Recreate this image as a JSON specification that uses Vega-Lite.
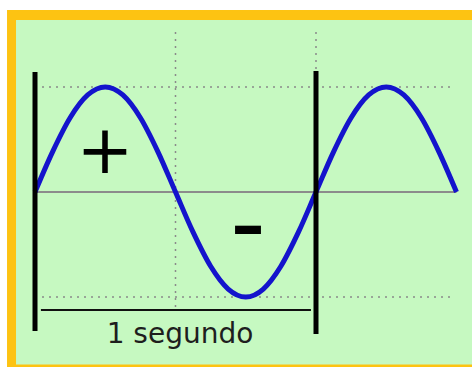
{
  "$schema": "https://vega.github.io/schema/vega-lite/v6.json",
  "width": 472,
  "height": 367,
  "autosize": {"type": "fit", "contains": "padding"},
  "padding": 0,
  "background": "#ffffff",
  "config": {"view": {"stroke": null}},
  "datasets": {
    "wave": [
      {"t": 0.0, "v": 0.0},
      {"t": 0.0625, "v": 0.3827},
      {"t": 0.125, "v": 0.7071},
      {"t": 0.1875, "v": 0.9239},
      {"t": 0.25, "v": 1.0},
      {"t": 0.3125, "v": 0.9239},
      {"t": 0.375, "v": 0.7071},
      {"t": 0.4375, "v": 0.3827},
      {"t": 0.5, "v": 0.0},
      {"t": 0.5625, "v": -0.3827},
      {"t": 0.625, "v": -0.7071},
      {"t": 0.6875, "v": -0.9239},
      {"t": 0.75, "v": -1.0},
      {"t": 0.8125, "v": -0.9239},
      {"t": 0.875, "v": -0.7071},
      {"t": 0.9375, "v": -0.3827},
      {"t": 1.0, "v": 0.0},
      {"t": 1.0625, "v": 0.3827},
      {"t": 1.125, "v": 0.7071},
      {"t": 1.1875, "v": 0.9239},
      {"t": 1.25, "v": 1.0},
      {"t": 1.3125, "v": 0.9239},
      {"t": 1.375, "v": 0.7071},
      {"t": 1.4375, "v": 0.3827},
      {"t": 1.5, "v": 0.0}
    ],
    "plus": [
      {"label": "+", "t": 0.249, "v": 0.181}
    ],
    "minus": [
      {"label": "–", "t": 0.758, "v": -0.529}
    ],
    "caption": [
      {"label": "1 segundo", "t": 0.516, "v": -1.438}
    ],
    "levels": [
      {"v": 1.0},
      {"v": -1.0}
    ]
  },
  "data": {"values": [{}]},
  "encoding": {
    "x": {"type": "quantitative", "scale": {"domain": [-0.1246, 1.5552], "nice": false, "zero": false}, "axis": null},
    "y": {"type": "quantitative", "scale": {"domain": [-1.6667, 1.8286], "nice": false, "zero": false}, "axis": null}
  },
  "layer": [
    {
      "mark": {"type": "rect", "color": "#fdc312"},
      "encoding": {
        "x": {"datum": -0.0996},
        "x2": {"datum": 1.5552},
        "y": {"datum": 1.733},
        "y2": {"datum": -1.6667}
      }
    },
    {
      "mark": {"type": "rect", "color": "#c6f9c1"},
      "encoding": {
        "x": {"datum": -0.0676},
        "x2": {"datum": 1.5552},
        "y": {"datum": 1.638},
        "y2": {"datum": -1.643}
      }
    },
    {
      "data": {"name": "levels"},
      "mark": {"type": "rule", "color": "#8a8a8a", "strokeWidth": 1.5, "strokeDash": [2, 5]},
      "encoding": {
        "x": {"datum": 0.0},
        "x2": {"datum": 1.49},
        "y": {"field": "v", "type": "quantitative"}
      }
    },
    {
      "mark": {"type": "rule", "color": "#8a8a8a", "strokeWidth": 1.5, "strokeDash": [2, 5]},
      "encoding": {
        "x": {"datum": 0.5},
        "y": {"datum": 1.524},
        "y2": {"datum": -1.143}
      }
    },
    {
      "mark": {"type": "rule", "color": "#8a8a8a", "strokeWidth": 1.5, "strokeDash": [2, 5]},
      "encoding": {
        "x": {"datum": 1.0},
        "y": {"datum": 1.524},
        "y2": {"datum": 1.15}
      }
    },
    {
      "mark": {"type": "rule", "color": "#8c8c8c", "strokeWidth": 2},
      "encoding": {
        "x": {"datum": 0.0},
        "x2": {"datum": 1.5},
        "y": {"datum": 0.0}
      }
    },
    {
      "data": {"name": "wave"},
      "mark": {"type": "line", "color": "#1414cc", "strokeWidth": 5, "interpolate": "monotone"},
      "encoding": {
        "x": {"field": "t", "type": "quantitative"},
        "y": {"field": "v", "type": "quantitative"}
      }
    },
    {
      "mark": {"type": "rule", "color": "#000000", "strokeWidth": 5},
      "encoding": {
        "x": {"datum": 0.0},
        "y": {"datum": 1.143},
        "y2": {"datum": -1.324}
      }
    },
    {
      "mark": {"type": "rule", "color": "#000000", "strokeWidth": 5},
      "encoding": {
        "x": {"datum": 1.0},
        "y": {"datum": 1.152},
        "y2": {"datum": -1.352}
      }
    },
    {
      "mark": {"type": "rule", "color": "#111111", "strokeWidth": 2},
      "encoding": {
        "x": {"datum": 0.021},
        "x2": {"datum": 0.982},
        "y": {"datum": -1.124}
      }
    },
    {
      "data": {"name": "plus"},
      "mark": {"type": "text", "font": "DejaVu Sans", "fontSize": 68, "align": "center", "baseline": "alphabetic", "color": "#000000"},
      "encoding": {
        "x": {"field": "t", "type": "quantitative"},
        "y": {"field": "v", "type": "quantitative"},
        "text": {"field": "label"}
      }
    },
    {
      "data": {"name": "minus"},
      "mark": {"type": "text", "font": "DejaVu Sans", "fontSize": 66, "fontWeight": "bold", "align": "center", "baseline": "alphabetic", "color": "#000000"},
      "encoding": {
        "x": {"field": "t", "type": "quantitative"},
        "y": {"field": "v", "type": "quantitative"},
        "text": {"field": "label"}
      }
    },
    {
      "data": {"name": "caption"},
      "mark": {"type": "text", "font": "DejaVu Sans", "fontSize": 28, "align": "center", "baseline": "alphabetic", "color": "#1e1e1e"},
      "encoding": {
        "x": {"field": "t", "type": "quantitative"},
        "y": {"field": "v", "type": "quantitative"},
        "text": {"field": "label"}
      }
    }
  ]
}
